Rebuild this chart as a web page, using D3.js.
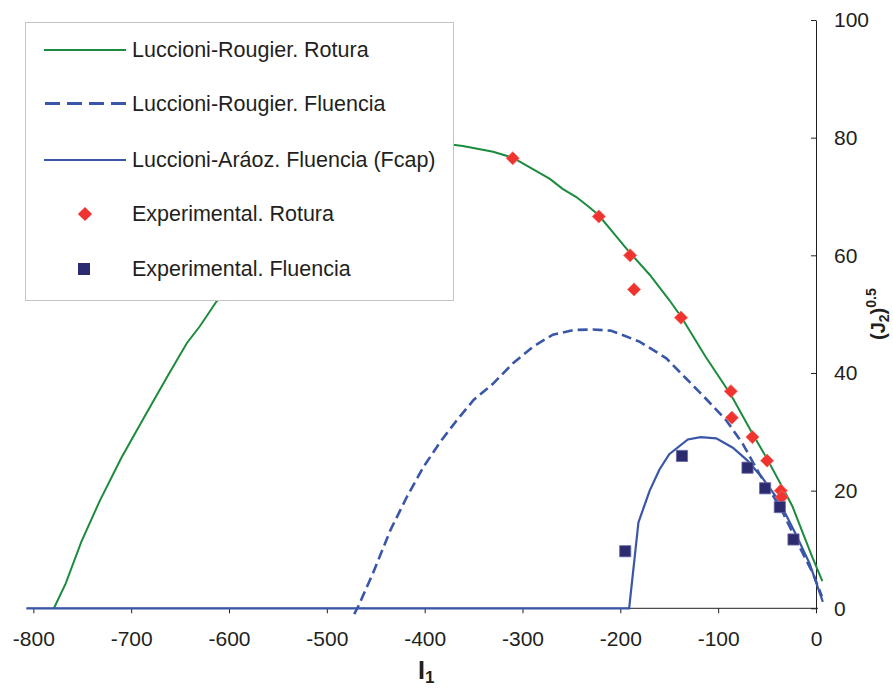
<!DOCTYPE html>
<html>
<head>
<meta charset="utf-8">
<script src="https://cdn.jsdelivr.net/npm/d3@7"></script>
<style>
  html, body { margin: 0; padding: 0; background: #fff; }
  svg { display: block; font-family: "Liberation Sans", Arial, sans-serif; }
</style>
</head>
<body>
<div id="chart"></div>
<script>
// Luccioni-Rougier rupture envelope
const rotI1 = [-779, -767, -751, -732, -710, -686, -662, -643, -630, -613, -580, -550, -500, -450, -400, -371, -361, -330, -310, -293, -272, -259, -245, -232, -222, -205, -191, -170, -150, -138, -113, -87, -65, -50, -36, -24, -17, -4, 6.5];
const rotJ2 = [0, 4.2, 11.3, 18.3, 25.6, 32.7, 39.7, 45.1, 47.9, 52.1, 58.5, 64, 71, 75.5, 78.5, 78.8, 78.6, 77.6, 76.6, 75, 73, 71.3, 69.9, 68.2, 66.8, 63.4, 60.6, 56.7, 52.4, 49.6, 42.8, 36.3, 29.7, 25.4, 21.1, 17.3, 14.3, 8.8, 4.6];

// Luccioni-Rougier yield envelope (dashed)
const fluI1 = [-472, -468, -453, -435, -418, -401, -384, -367, -350, -330, -310, -289, -269, -248, -228, -210, -200, -180, -153, -133, -113, -92, -75, -58, -37, -17, -3, 6];
const fluJ2 = [-1, 0.3, 5.9, 13.3, 19, 24.1, 28.3, 32, 35.4, 38.2, 41.6, 44.5, 46.5, 47.3, 47.4, 47.2, 46.6, 45.3, 42.5, 39.1, 35.7, 32, 28, 22.9, 17.3, 10.5, 5.9, 2.0];

// Luccioni-Araoz yield with cap
const capI1 = [-807, -191, -181.5, -170, -160, -150, -131, -118, -102, -85, -70, -55, -38, -21, -6.5, 7];
const capJ2 = [0, 0, 14.6, 20, 23.6, 26.2, 28.7, 29.1, 28.9, 27.3, 25.1, 22.2, 18.3, 12.7, 7.6, 1.1];

// experimental points
const expRotI1 = [-310, -222, -190, -186, -138, -87, -86, -65, -50, -36, -35];
const expRotJ2 = [76.5, 66.6, 60.0, 54.2, 49.4, 36.9, 32.4, 29.1, 25.1, 20, 18.9];
const expFluI1 = [-195, -137, -70, -52, -37, -23];
const expFluJ2 = [9.7, 25.9, 23.9, 20.4, 17.2, 11.7];

const xTicks = [-800, -700, -600, -500, -400, -300, -200, -100, 0];
const yTicks = [0, 20, 40, 60, 80, 100];
const legendLabels = [
  'Luccioni-Rougier. Rotura',
  'Luccioni-Rougier. Fluencia',
  'Luccioni-Aráoz. Fluencia (Fcap)',
  'Experimental. Rotura',
  'Experimental. Fluencia'
];

const width = 893, height = 688;
const GREEN = '#1b8b3d', BLUE = '#3a56a8', RED = '#ef3330', NAVY = '#2d2b70', INK = '#231f20';

const svg = d3.select('#chart').append('svg')
  .attr('width', width)
  .attr('height', height);

const x = d3.scaleLinear().domain([-807, 0]).range([26.5, 816]);
const y = d3.scaleLinear().domain([0, 100]).range([608.3, 20]);

// axes (plain hyphen for negatives, like the original)
const xAxis = svg.append('g')
  .attr('transform', `translate(0,${y(0)})`)
  .call(d3.axisBottom(x).tickValues(xTicks).tickFormat(d => String(d))
    .tickSizeInner(5).tickSizeOuter(0).tickPadding(18));
xAxis.select('.domain').attr('d', `M${x(-807)},0H${x(0) + 2}`).attr('stroke', INK);
xAxis.selectAll('.tick line').attr('stroke', INK);
xAxis.selectAll('.tick text').attr('fill', INK).style('font-size', '21px');

const yAxis = svg.append('g')
  .attr('transform', `translate(${x(0)},0)`)
  .call(d3.axisRight(y).tickValues(yTicks).tickFormat(d => String(d))
    .tickSizeInner(-5).tickSizeOuter(0).tickPadding(18));
yAxis.select('.domain').attr('stroke', INK);
yAxis.selectAll('.tick line').attr('stroke', INK);
yAxis.selectAll('.tick text').attr('fill', INK).style('font-size', '21px');

// axis titles
const xTitle = svg.append('text')
  .attr('x', 418).attr('y', 679)
  .attr('fill', INK)
  .style('font-size', '25px').style('font-weight', 'bold');
xTitle.append('tspan').text('I');
xTitle.append('tspan').attr('dy', 4).style('font-size', '17px').text('1');

const yTitle = svg.append('text')
  .attr('transform', `translate(885,${y(50)}) rotate(-90)`)
  .attr('text-anchor', 'middle')
  .attr('fill', INK)
  .style('font-size', '20px').style('font-weight', 'bold');
yTitle.append('tspan').text('(J');
yTitle.append('tspan').attr('dy', 4).style('font-size', '14px').text('2');
yTitle.append('tspan').attr('dy', -4).text(')');
yTitle.append('tspan').attr('dy', -9).style('font-size', '14px').text('0.5');

// curves
const line = d3.line().x(d => x(d[0])).y(d => y(d[1]));
const zip = (a, b) => a.map((v, i) => [v, b[i]]);

svg.append('path').datum(zip(rotI1, rotJ2))
  .attr('d', line).attr('fill', 'none')
  .attr('stroke', GREEN).attr('stroke-width', 2);

svg.append('path').datum(zip(fluI1, fluJ2))
  .attr('d', line).attr('fill', 'none')
  .attr('stroke', BLUE).attr('stroke-width', 2.6)
  .attr('stroke-dasharray', '10,5');

svg.append('path').datum(zip(capI1, capJ2))
  .attr('d', line).attr('fill', 'none')
  .attr('stroke', BLUE).attr('stroke-width', 2.2);

// markers
const diamond = d3.symbol().type(d3.symbolSquare).size(86);
const square = d3.symbol().type(d3.symbolSquare).size(125);

svg.append('g').selectAll('path')
  .data(zip(expRotI1, expRotJ2))
  .join('path')
  .attr('d', diamond)
  .attr('transform', d => `translate(${x(d[0])},${y(d[1])}) rotate(45)`)
  .attr('fill', RED).attr('stroke', '#f46a5e').attr('stroke-width', 0.8);

svg.append('g').selectAll('path')
  .data(zip(expFluI1, expFluJ2))
  .join('path')
  .attr('d', square)
  .attr('transform', d => `translate(${x(d[0])},${y(d[1])})`)
  .attr('fill', NAVY).attr('stroke', '#6a68a8').attr('stroke-width', 0.8);

// legend
const legend = svg.append('g');
legend.append('rect')
  .attr('x', 25.5).attr('y', 22.5).attr('width', 428).attr('height', 278)
  .attr('fill', '#fff').attr('stroke', '#c4c4c4').attr('stroke-width', 1);

const rowY = [50, 103.5, 160, 214, 269];
const rows = legend.selectAll('g.row')
  .data(legendLabels)
  .join('g')
  .attr('class', 'row')
  .attr('transform', (d, i) => `translate(0,${rowY[i]})`);

rows.append('text')
  .attr('x', 132).attr('y', 7)
  .attr('fill', INK)
  .style('font-size', '21.5px')
  .text(d => d);

rows.each(function (d, i) {
  const g = d3.select(this);
  if (i === 0) {
    g.append('line').attr('x1', 44).attr('x2', 126).attr('stroke', GREEN).attr('stroke-width', 2);
  } else if (i === 1) {
    g.append('line').attr('x1', 45).attr('x2', 126).attr('stroke', BLUE).attr('stroke-width', 3)
      .attr('stroke-dasharray', '15,7');
  } else if (i === 2) {
    g.append('line').attr('x1', 44).attr('x2', 126).attr('stroke', BLUE).attr('stroke-width', 2);
  } else if (i === 3) {
    g.append('path').attr('d', d3.symbol().type(d3.symbolSquare).size(100))
      .attr('transform', 'translate(85,0) rotate(45)').attr('fill', RED);
  } else {
    g.append('path').attr('d', d3.symbol().type(d3.symbolSquare).size(144))
      .attr('transform', 'translate(84,0)').attr('fill', NAVY);
  }
});
</script>
</body>
</html>
